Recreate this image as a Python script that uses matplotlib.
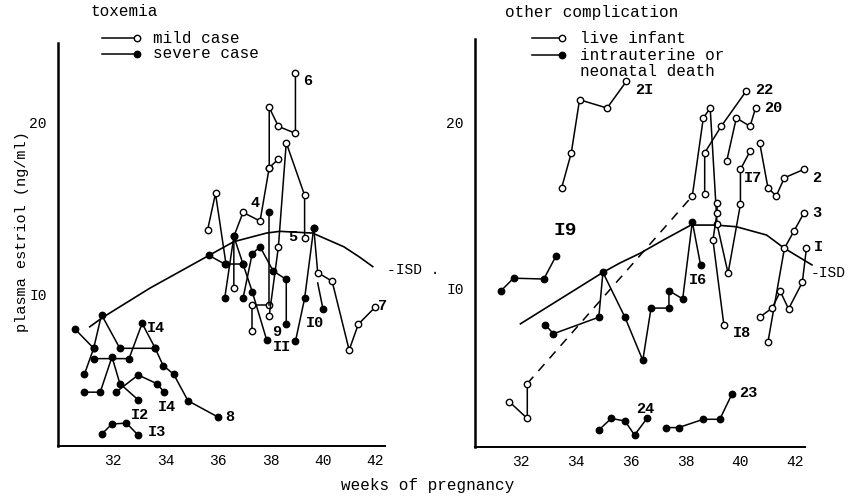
import matplotlib
matplotlib.use("Agg")
import matplotlib.pyplot as plt
from matplotlib.lines import Line2D

plt.rcParams['font.family'] = ['Liberation Mono', 'DejaVu Sans Mono']

# ---------------- toxemia panel (weeks, plasma estriol ng/ml) ----------------
isd_left_wk = [31.1, 31.6, 33.4, 35.65, 36.6, 37.85, 38.35, 39.6, 40.8, 41.4, 41.9]
isd_left_val = [8.15, 8.7, 10.4, 12.3, 13.1, 13.6, 13.7, 13.6, 12.8, 12.2, 11.65]

# mild cases (open circles)
m1_wk = [35.6, 35.9, 36.3]
m1_val = [13.8, 15.9, 11.8]
case4_wk = [36.6, 36.6, 36.95, 37.6, 37.95, 38.3]
case4_val = [10.4, 13.4, 14.8, 14.3, 17.4, 17.9]
case6_wk = [37.95, 37.95, 38.3, 38.95, 38.95]
case6_val = [17.4, 20.9, 19.8, 19.4, 22.9]
case9_wk = [37.3, 37.3, 37.95]
case9_val = [7.9, 9.4, 9.4]
case5_wk = [37.95, 38.3, 38.6, 39.3, 39.3]
case5_val = [8.8, 12.8, 18.85, 15.8, 13.3]
case7_wk = [39.65, 39.8, 40.35, 41.0, 41.35, 42.0]
case7_val = [13.9, 11.3, 10.8, 6.8, 8.3, 9.3]

# severe cases (filled circles)
case11_wk = [35.65, 36.25, 36.95, 37.3, 37.85]
case11_val = [12.3, 11.8, 11.8, 10.2, 7.4]
sb_wk = [36.25, 36.6, 36.95]
sb_val = [9.8, 13.4, 11.8]
sc_wk = [36.95, 37.3, 37.6, 38.1, 38.6, 38.6]
sc_val = [9.8, 12.4, 12.8, 11.4, 10.9, 8.3]
svert_wk = [37.95, 37.95]
svert_val = [9.4, 14.85]
case10_wk = [38.95, 39.3, 39.65]
case10_val = [7.3, 9.8, 13.9]
case10b_wk = [39.8, 40.0]
case10b_val = [10.7, 9.2]
sa_wk = [30.55, 31.25]
sa_val = [8.0, 6.9]
case8_wk = [30.9, 31.25, 31.55, 32.25, 33.6, 33.9, 34.3, 34.85, 36.0]
case8_val = [5.4, 6.9, 8.85, 6.9, 6.9, 5.9, 5.4, 3.85, 2.9]
case14a_wk = [31.25, 32.6, 33.1, 33.6]
case14a_val = [6.3, 6.3, 8.35, 6.9]
case12_wk = [30.9, 31.5, 31.95, 32.25, 32.95]
case12_val = [4.35, 4.35, 6.4, 4.85, 3.9]
case14b_wk = [32.1, 32.95, 33.65, 33.95]
case14b_val = [4.35, 5.35, 4.85, 4.35]
case13_wk = [31.55, 31.95, 32.5, 32.95]
case13_val = [1.9, 2.5, 2.55, 1.85]

# ---------------- other complication panel ----------------
isd_right_wk = [32.0, 35.0, 35.6, 36.35, 37.2, 38.2, 39.1, 39.85, 40.95, 41.6, 42.6]
isd_right_val = [7.9, 11.0, 11.55, 12.15, 12.95, 13.85, 13.85, 13.75, 13.25, 12.45, 11.45]

# live infant (open circles)
case21_wk = [33.5, 33.85, 34.15, 35.15, 35.85]
case21_val = [16.1, 18.2, 21.4, 20.9, 22.5]
early_wk = [31.6, 32.25, 32.25]
early_val = [3.2, 2.2, 4.3]
case17_wk = [38.25, 38.65, 38.9, 39.15, 39.55, 40.0, 40.0, 40.35]
case17_val = [15.6, 20.3, 20.9, 13.9, 10.95, 15.1, 17.2, 18.3]
case22_wk = [38.7, 38.7, 39.3, 40.2]
case22_val = [15.7, 18.2, 19.8, 21.9]
case20_wk = [39.5, 39.85, 40.35, 40.55]
case20_val = [17.7, 20.3, 19.8, 20.9]
case2_wk = [40.7, 41.0, 41.3, 41.6, 42.3]
case2_val = [18.8, 16.1, 15.6, 16.7, 17.2]
case18_wk = [39.15, 39.15, 39.0, 39.4]
case18_val = [15.2, 14.6, 12.95, 7.8]
case3_wk = [41.0, 41.6, 41.95, 42.3]
case3_val = [6.8, 12.45, 13.5, 14.55]
case1_wk = [40.7, 41.15, 41.45, 41.75, 42.25, 42.4]
case1_val = [8.3, 8.85, 9.85, 8.8, 10.4, 12.45]

# intrauterine or neonatal death (filled circles)
case16_wk = [32.9, 33.2, 34.85, 35.0, 35.8, 36.45, 36.75, 37.4, 37.4, 37.9, 38.25, 38.55]
case16_val = [7.85, 7.3, 8.3, 11.0, 8.3, 5.7, 8.85, 8.85, 9.9, 9.4, 14.05, 11.45]
case19_wk = [31.3, 31.75, 32.85, 33.3]
case19_val = [9.9, 10.65, 10.6, 12.0]
case24_wk = [34.85, 35.3, 35.8, 36.15, 36.6]
case24_val = [1.5, 2.2, 2.05, 1.2, 2.2]
case23_wk = [37.3, 37.75, 38.65, 39.25, 39.7]
case23_val = [1.65, 1.65, 2.15, 2.15, 3.7]

x_ticks = [32, 34, 36, 38, 40, 42]
y_ticks = [10, 20]
y_tick_labels = ["I0", "20"]

fig = plt.figure(figsize=(8.57, 4.98), dpi=100)
axL = fig.add_axes([0.0677, 0.1044, 0.3816, 0.8093])
axR = fig.add_axes([0.5543, 0.1024, 0.3851, 0.8193])


def style(ax, xlim, ylim):
    ax.set_xlim(*xlim)
    ax.set_ylim(*ylim)
    for s in ['top', 'right']:
        ax.spines[s].set_visible(False)
    ax.spines['left'].set_linewidth(1.8)
    ax.spines['bottom'].set_linewidth(1.4)
    ax.set_xticks(x_ticks)
    ax.set_xticklabels([str(t) for t in x_ticks])
    ax.set_yticks(y_ticks)
    ax.set_yticklabels(y_tick_labels)
    ax.tick_params(length=0, labelsize=10.5)
    ax.tick_params(axis='x', pad=6)
    ax.tick_params(axis='y', pad=8)


def draw(ax, wk, val, filled, markevery=None, ls='-'):
    ax.plot(wk, val, linestyle=ls, color='black', lw=1.1, marker='o', ms=4.6,
            mfc='black' if filled else 'white', mec='black', mew=1.0,
            markevery=markevery, clip_on=False, zorder=3 if filled else 2)


def label(ax, w, v, s, size=11):
    ax.text(w, v, s, fontsize=size, fontweight='bold', ha='center', va='center',
            clip_on=False, zorder=5)


style(axL, (29.89, 42.37), (1.22, 24.65))
style(axR, (30.35, 42.35), (0.48, 25.06))

# toxemia panel
axL.plot(isd_left_wk, isd_left_val, color='black', lw=1.2, zorder=1, clip_on=False)
for wk, val in [(m1_wk, m1_val), (case4_wk, case4_val), (case6_wk, case6_val),
                (case9_wk, case9_val), (case5_wk, case5_val), (case7_wk, case7_val)]:
    draw(axL, wk, val, False)
for wk, val in [(case11_wk, case11_val), (sb_wk, sb_val), (sc_wk, sc_val),
                (case10_wk, case10_val), (sa_wk, sa_val), (case8_wk, case8_val),
                (case14a_wk, case14a_val), (case12_wk, case12_val),
                (case14b_wk, case14b_val), (case13_wk, case13_val)]:
    draw(axL, wk, val, True)
draw(axL, svert_wk, svert_val, True, markevery=[1])
draw(axL, case10b_wk, case10b_val, True, markevery=[1])

label(axL, 39.43, 22.46, "6")
label(axL, 37.41, 15.33, "4")
label(axL, 38.85, 13.39, "5")
label(axL, 38.25, 7.87, "9")
label(axL, 38.43, 6.95, "II")
label(axL, 39.7, 8.35, "I0")
label(axL, 42.29, 9.36, "7")
label(axL, 36.45, 2.92, "8")
label(axL, 33.63, 8.06, "I4")
label(axL, 34.06, 3.5, "I4")
label(axL, 33.02, 3.02, "I2")
label(axL, 33.66, 2.05, "I3")
axL.text(42.45, 11.45, "-ISD .", fontsize=10.5, ha='left', va='center', clip_on=False)

# other complication panel
axR.plot(isd_right_wk, isd_right_val, color='black', lw=1.2, zorder=1, clip_on=False)
draw(axR, early_wk, early_val, False)
axR.plot([early_wk[-1], case17_wk[0]], [early_val[-1], case17_val[0]], color='black',
         lw=1.1, dashes=(6, 5), zorder=1)
for wk, val in [(case21_wk, case21_val), (case17_wk, case17_val), (case22_wk, case22_val),
                (case20_wk, case20_val), (case2_wk, case2_val), (case18_wk, case18_val),
                (case3_wk, case3_val), (case1_wk, case1_val)]:
    draw(axR, wk, val, False)
for wk, val in [(case16_wk, case16_val), (case19_wk, case19_val),
                (case24_wk, case24_val), (case23_wk, case23_val)]:
    draw(axR, wk, val, True)

label(axR, 36.5, 21.99, "2I")
label(axR, 40.85, 21.99, "22")
label(axR, 41.2, 20.9, "20")
label(axR, 40.45, 16.67, "I7")
label(axR, 42.77, 16.69, "2")
label(axR, 42.77, 14.58, "3")
label(axR, 42.82, 12.55, "I")
label(axR, 38.45, 10.54, "I6")
label(axR, 40.05, 7.35, "I8")
label(axR, 33.62, 13.5, "I9", size=14)
label(axR, 36.53, 2.75, "24")
label(axR, 40.27, 3.72, "23")
axR.text(42.55, 10.96, "-ISD", fontsize=10.5, ha='left', va='center', clip_on=False)

# legends, titles and axis labels
W, H = 857.0, 498.0


def legend_row(x0, x1, y, filled):
    fig.add_artist(Line2D([x0 / W, x1 / W], [1 - y / H, 1 - y / H], color='black', lw=1.1,
                          marker='o', ms=4.6, mfc='black' if filled else 'white',
                          mec='black', markevery=[1]))


fig.text(90 / W, 1 - 12 / H, "toxemia", fontsize=11.5, va='center')
legend_row(102, 137, 38, False)
legend_row(102, 137, 54, True)
fig.text(153 / W, 1 - 38 / H, "mild case", fontsize=11.5, va='center')
fig.text(153 / W, 1 - 54 / H, "severe case", fontsize=11.5, va='center')

fig.text(505 / W, 1 - 13 / H, "other complication", fontsize=11.5, va='center')
legend_row(532, 562, 38, False)
legend_row(532, 562, 55, True)
fig.text(580 / W, 1 - 38 / H, "live infant", fontsize=11.5, va='center')
fig.text(580 / W, 1 - 55 / H, "intrauterine or", fontsize=11.5, va='center')
fig.text(580 / W, 1 - 72 / H, "neonatal death", fontsize=11.5, va='center')

fig.text(22 / W, 1 - 232 / H, "plasma estriol (ng/ml)", fontsize=11, rotation=90,
         ha='center', va='center')
fig.text(428 / W, 1 - 485 / H, "weeks of pregnancy", fontsize=11.5, ha='center', va='center')

fig.savefig("out.png", dpi=100)
